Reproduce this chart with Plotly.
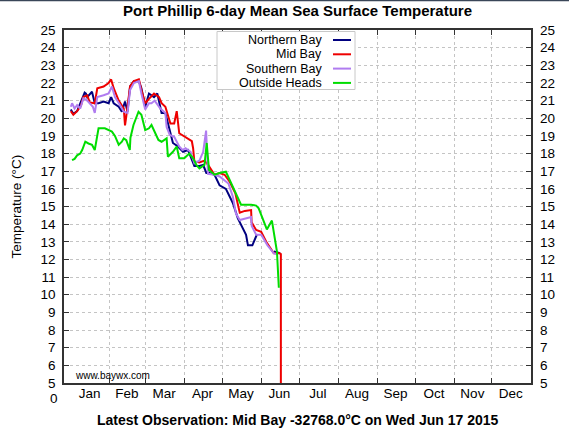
import pandas as pd
import plotly.graph_objects as go

# ---------------- data (day of year 2015, temperature in °C) ----------------
north_days = [0, 2, 5, 7.5, 11, 12, 13, 16.8, 18, 19, 22, 26, 30, 32, 34, 38, 40.5, 43, 45, 47, 50, 54, 56, 59,
              62, 66, 68.6, 70, 72, 75, 77, 81, 85, 89, 93, 97, 98, 102, 105, 107.5, 110, 114, 118, 123, 128.5,
              132.5, 136.5, 139, 140.5, 144, 147.5]
north_vals = [20.5, 20.25, 20.4, 20.85, 21.45, 21.4, 21.2, 21.5, 21.1, 20.85, 20.85, 20.95, 20.85, 21.2, 20.85,
              20.65, 20.37, 20.95, 20.37, 21.8, 22.1, 22.1, 21.7, 20.65, 21.4, 21.2, 21.4, 20.95, 20.3, 20.3,
              19.7, 18.6, 18.4, 18.1, 18.2, 17.55, 17.3, 17.3, 17.35, 16.9, 16.9, 16.8, 16.2, 16.0, 15.2, 14.33,
              13.77, 13.4, 12.8, 12.8, 13.4]
north2_days = [161, 166]
north2_vals = [12.45, 12.35]

mid_days = [0, 2, 5, 8, 10, 13, 15, 19, 21, 26, 30, 32, 34, 38, 42, 43, 44, 47, 50, 54, 56, 59, 62, 66, 70,
            72, 75, 79, 82, 84, 86, 90, 96, 97, 98, 102, 106, 109, 114, 118, 122, 126, 130.5, 134, 138, 143,
            143.4, 147, 151, 155, 161, 165.5, 166.6, 166.8]
mid_vals = [20.4, 20.2, 20.4, 20.7, 21.2, 21.3, 20.9, 20.85, 21.7, 21.8, 22.0, 22.2, 21.7, 21.0, 20.55, 19.6,
            20.1, 21.8, 22.1, 22.2, 21.6, 20.85, 21.1, 21.4, 21.2, 20.85, 20.65, 19.7, 19.7, 20.4, 19.15, 18.95,
            18.7, 18.3, 17.55, 17.5, 17.6, 17.35, 16.8, 16.9, 16.8, 16.4, 15.75, 14.65, 14.75, 14.8, 14.1, 13.67,
            13.57, 13.0, 12.35, 12.35, 12.3, -32768.0]

south_days = [0, 1, 3, 5, 7.5, 10, 13, 15, 17.5, 19, 21, 26, 30, 32.6, 35, 39, 42, 45, 47, 50, 54, 56, 59, 62,
              64, 66.5, 71, 75, 76, 78.5, 82, 86, 88.5, 91, 95, 98, 102, 105, 107.3, 108.8, 114, 118, 120, 125,
              128.5, 131, 134, 138, 143, 143.5, 147, 151, 156, 161, 163]
south_vals = [20.65, 20.85, 20.55, 20.75, 20.55, 21.13, 21.0, 20.85, 20.65, 20.3, 21.2, 21.3, 21.4, 21.8, 21.2,
              20.75, 20.37, 20.3, 21.6, 22.0, 22.1, 21.4, 20.5, 20.85, 20.85, 21.0, 20.55, 20.3, 19.5, 19.05,
              18.95, 18.4, 18.2, 18.3, 18.1, 17.45, 17.6, 18.1, 19.3, 16.85, 16.8, 16.7, 16.6, 16.3, 15.56, 14.6,
              14.23, 14.3, 14.4, 13.9, 13.4, 13.4, 12.8, 12.35, 12.3]

outside_days = [1, 3, 5, 7.5, 9, 11.5, 14, 16.8, 19, 22, 27, 32.6, 35, 38, 40.5, 42, 44, 46.8, 47.3, 49.7, 53.7,
                56, 59, 62, 64, 66, 69.5, 72, 76, 77, 81, 84, 86, 90, 94, 97, 99.6, 102, 106, 107.8, 109.6, 114,
                118, 123, 126.5, 131, 135, 143, 147, 149, 155.5, 159.5, 163.5, 165]
outside_vals = [17.63, 17.7, 17.9, 18.0, 18.2, 18.67, 18.57, 18.5, 18.2, 19.43, 19.43, 19.24, 19.0, 18.5, 18.67,
                18.86, 18.76, 18.2, 18.9, 19.62, 20.37, 20.2, 19.33, 19.43, 19.62, 19.33, 18.77, 18.67, 18.86,
                17.82, 18.1, 18.4, 17.73, 17.73, 18.0, 17.73, 17.35, 17.16, 17.35, 18.6, 17.07, 16.8, 16.9,
                16.97, 16.4, 15.75, 15.1, 15.1, 15.05, 14.9, 13.7, 14.2, 12.45, 10.4]

series_names = ["Northern Bay", "Mid Bay", "Southern Bay", "Outside Heads"]
series_colors = ["#00007f", "#ee0000", "#b07cf0", "#00dd00"]

month_names = ["Jan", "Feb", "Mar", "Apr", "May", "Jun", "Jul", "Aug", "Sep", "Oct", "Nov", "Dec"]
month_starts = ["2015-02-01", "2015-03-01", "2015-04-01", "2015-05-01", "2015-06-01", "2015-07-01",
                "2015-08-01", "2015-09-01", "2015-10-01", "2015-11-01", "2015-12-01"]
month_mids = ["2015-01-16", "2015-02-14 12:00", "2015-03-16", "2015-04-15 12:00", "2015-05-16",
              "2015-06-15 12:00", "2015-07-16", "2015-08-16", "2015-09-15 12:00", "2015-10-16",
              "2015-11-15 12:00", "2015-12-16"]
y_ticks = list(range(5, 26))

title_text = "Port Phillip 6-day Mean Sea Surface Temperature"
bottom_text = "Latest Observation: Mid Bay -32768.0°C on Wed Jun 17 2015"

# ---------------- figure ----------------
base = pd.Timestamp("2015-01-01")


def to_dates(days):
    return [base + pd.to_timedelta(d, unit="D") for d in days]


x_range = [base - pd.to_timedelta(5.4, unit="D"), pd.Timestamp("2016-01-01")]

fig = go.Figure()
LW = 2
fig.add_trace(go.Scatter(x=to_dates(north_days), y=north_vals, mode="lines", name=series_names[0],
                         line=dict(color=series_colors[0], width=LW)))
fig.add_trace(go.Scatter(x=to_dates(north2_days), y=north2_vals, mode="lines", name=series_names[0],
                         line=dict(color=series_colors[0], width=LW)))
fig.add_trace(go.Scatter(x=to_dates(mid_days), y=mid_vals, mode="lines", name=series_names[1],
                         line=dict(color=series_colors[1], width=LW)))
fig.add_trace(go.Scatter(x=to_dates(south_days), y=south_vals, mode="lines", name=series_names[2],
                         line=dict(color=series_colors[2], width=LW)))
fig.add_trace(go.Scatter(x=to_dates(outside_days), y=outside_vals, mode="lines", name=series_names[3],
                         line=dict(color=series_colors[3], width=LW), xaxis="x2", yaxis="y2"))

FONT = "Liberation Sans, Arial, Helvetica, sans-serif"
FRAME = "#333333"
GRID = "#c4c4c4"

fig.update_layout(
    width=569, height=428,
    margin=dict(l=64, r=38, t=30, b=45),
    plot_bgcolor="white", paper_bgcolor="white",
    showlegend=False,
    font=dict(family=FONT, size=13.5, color="black"),
    xaxis=dict(type="date", range=x_range, tickvals=month_starts, ticktext=[""] * len(month_starts),
               showgrid=True, gridcolor=GRID, griddash="dot", gridwidth=1,
               ticks="inside", ticklen=5, tickcolor=FRAME, showline=True, linecolor=FRAME, linewidth=1.5,
               mirror="ticks", zeroline=False),
    xaxis2=dict(type="date", range=x_range, overlaying="x", anchor="y2", side="bottom",
                tickvals=month_mids, ticktext=month_names, ticks="", showgrid=False, showline=False,
                zeroline=False, tickfont=dict(size=13.5)),
    yaxis=dict(range=[5, 25], tickvals=y_ticks, showgrid=True, gridcolor=GRID, griddash="dot", gridwidth=1,
               ticks="inside", ticklen=5, tickcolor=FRAME, showline=True, linecolor=FRAME, linewidth=1.5,
               mirror="ticks", zeroline=False, ticklabelstandoff=4),
    yaxis2=dict(range=[5, 25], tickvals=y_ticks, overlaying="y", anchor="x2", side="right", showgrid=False,
                showline=False, zeroline=False, ticks="", ticklabelstandoff=8),
)


def px_x(p):
    return (p - 64) / 467.0


def px_y(p):
    return (383 - p) / 353.0


ann = []
ann.append(dict(text="<b>" + title_text + "</b>", x=0.5, y=px_y(10), xref="paper", yref="paper",
                showarrow=False, font=dict(size=15), xanchor="center", yanchor="middle"))
ann.append(dict(text="<b>" + bottom_text + "</b>", x=0.5, y=px_y(420), xref="paper", yref="paper",
                showarrow=False, font=dict(size=14), xanchor="center", yanchor="middle"))
ann.append(dict(text="Temperature (°C)", x=px_x(16), y=0.5, xref="paper", yref="paper", textangle=-90,
                showarrow=False, font=dict(size=13.5), xanchor="center", yanchor="middle"))
ann.append(dict(text="0", x=px_x(54), y=px_y(398), xref="paper", yref="paper", showarrow=False,
                font=dict(size=13.5), xanchor="center", yanchor="middle"))
ann.append(dict(text="www.baywx.com", x=px_x(73), y=px_y(375), xref="paper", yref="paper", showarrow=False,
                font=dict(size=10), xanchor="left", yanchor="middle"))

shapes = []
shapes.append(dict(type="rect", xref="paper", yref="paper", x0=px_x(217), x1=px_x(355), y0=px_y(89.5),
                   y1=px_y(31.5), line=dict(color="#c8c8c8", width=1), fillcolor="white", layer="above"))
rows = [40, 54.3, 68.6, 82.9]
for name, color, ry in zip(series_names, series_colors, rows):
    ann.append(dict(text=name, x=px_x(323), y=px_y(ry), xref="paper", yref="paper", showarrow=False,
                    font=dict(size=12.5), xanchor="right", yanchor="middle", borderpad=0))
    shapes.append(dict(type="line", xref="paper", yref="paper", x0=px_x(333), x1=px_x(351), y0=px_y(ry),
                       y1=px_y(ry), line=dict(color=color, width=2), layer="above"))

shapes.append(dict(type="line", xref="paper", yref="paper", x0=-1, x1=2, y0=px_y(0.5), y1=px_y(0.5),
                   line=dict(color="#3a4658", width=1.5)))

fig.update_layout(annotations=ann, shapes=shapes)
fig.write_html("out.html", config={"displayModeBar": False},
               post_script="document.body.style.margin='0';document.body.style.padding='0';")
